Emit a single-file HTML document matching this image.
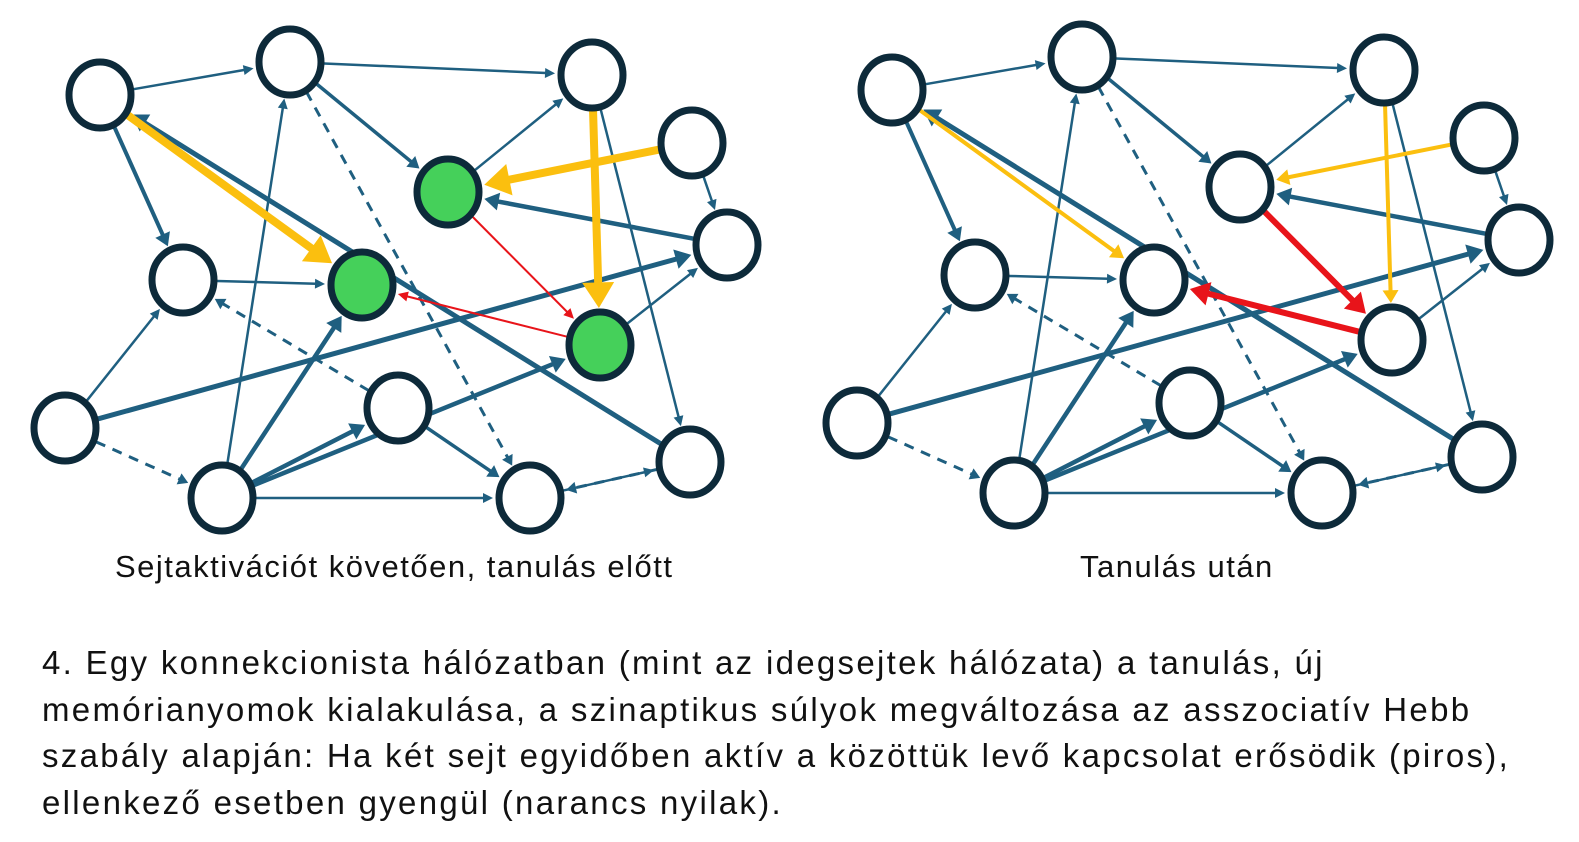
<!DOCTYPE html>
<html><head><meta charset="utf-8"><style>
html,body{margin:0;padding:0;background:#fff;width:1579px;height:842px;overflow:hidden;font-family:"Liberation Sans",sans-serif;color:#111}
svg{position:absolute;left:0;top:0}
.cap{position:absolute;font-size:31px;letter-spacing:1.5px;white-space:nowrap;top:549px}
.par{position:absolute;left:42px;top:640px;font-size:33px;letter-spacing:2.3px;line-height:46.5px;white-space:nowrap}
</style></head><body>
<svg id="s" width="1579" height="600" xmlns="http://www.w3.org/2000/svg"></svg>
<div class="cap" style="left:115px">Sejtaktivációt követően, tanulás előtt</div>
<div class="cap" style="left:1080px">Tanulás után</div>
<div class="par">4. Egy konnekcionista hálózatban (mint az idegsejtek hálózata) a tanulás, új<br>memórianyomok kialakulása, a szinaptikus súlyok megváltozása az asszociatív Hebb<br>szabály alapján: Ha két sejt egyidőben aktív a közöttük levő kapcsolat erősödik (piros),<br>ellenkező esetben gyengül (narancs nyilak).</div>
<script>
var NS="http://www.w3.org/2000/svg",S=document.getElementById("s");
var P={A:[100,95],B:[290,62],C:[592,75],D:[692,143],E:[448,192],F:[727,245],G:[183,280],H:[362,285],I:[600,345],J:[65,428],K:[398,408],L:[222,498],M:[530,498],N:[690,462]};
var BL="#1f5f80",Y="#fbbf0f",R="#e8141a";
function el(t,a){var e=document.createElementNS(NS,t);for(var k in a)e.setAttribute(k,a[k]);S.appendChild(e);return e}
function edge(a,b,w,c,dash,ox,oy){
 var x1=P[a][0]+ox,y1=P[a][1]+oy,x2=P[b][0]+ox,y2=P[b][1]+oy;
 var dx=x2-x1,dy=y2-y1,d=Math.hypot(dx,dy),ux=dx/d,uy=dy/d;
 var sx=x1+ux*34,sy=y1+uy*34,ex=x2-ux*37,ey=y2-uy*37;
 var hl=Math.max(10,w*3.2),hw=Math.max(5,w*2);
 var bx=ex-ux*hl,by=ey-uy*hl;
 var l=el("line",{x1:sx,y1:sy,x2:bx+ux*1,y2:by+uy*1,stroke:c,"stroke-width":w});
 if(dash)l.setAttribute("stroke-dasharray","10,8");
 el("polygon",{points:ex+","+ey+" "+(bx-uy*hw)+","+(by+ux*hw)+" "+(bx+uy*hw)+","+(by-ux*hw),fill:c});
}
function net(ox,oy,right){
 var E=[["A","B",2.5],["B","C",2.5],["E","C",2.5],["B","E",3.5],["C","N",2.5],["D","F",2.5],["F","E",4.5],["I","F",2.5],["J","F",5],["J","G",2.5],["G","H",2.5],["L","B",2.5],["L","H",4.5],["L","K",4.5],["L","I",4.5],["L","M",2.5],["K","M",3.5],["M","N",2.5],["N","A",5],["A","G",4]];
 E.forEach(function(e){edge(e[0],e[1],e[2],BL,false,ox,oy)});
 [["B","M"],["J","L"],["N","M"],["K","G"]].forEach(function(e){edge(e[0],e[1],3,BL,true,ox,oy)});
 var yw=right?4:8;
 edge("A","H",yw,Y,false,ox,oy);edge("C","I",yw,Y,false,ox,oy);edge("D","E",yw,Y,false,ox,oy);
 var rw=right?6:2;
 edge("E","I",rw,R,false,ox,oy);edge("I","H",rw,R,false,ox,oy);
 for(var k in P){var g=!right&&(k=="E"||k=="H"||k=="I");
  el("ellipse",{cx:P[k][0]+ox,cy:P[k][1]+oy,rx:31,ry:33,fill:g?"#45d05a":"#fff",stroke:"#0d2a3a","stroke-width":7});}
}
net(0,0,false);net(792,-5,true);
</script>
</body></html>
